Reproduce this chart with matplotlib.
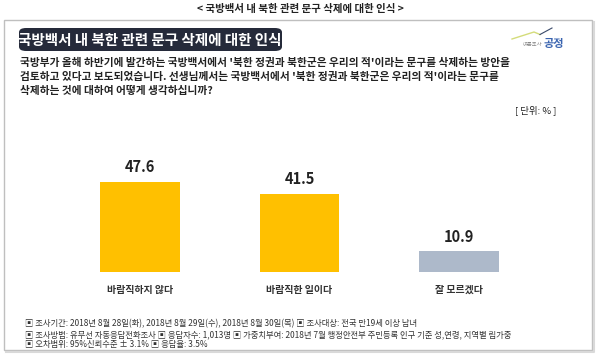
import matplotlib
matplotlib.use("Agg")
import matplotlib.pyplot as plt
from matplotlib.patches import FancyBboxPatch, Rectangle

plt.rcParams['font.family'] = ['Noto Sans CJK KR', 'DejaVu Sans']

categories = ["바람직하지 않다", "바람직한 일이다", "잘 모르겠다"]
values = [47.6, 41.5, 10.9]
colors = ["#FFC000", "#FFC000", "#ADB9CA"]

top_title = "< 국방백서 내 북한 관련 문구 삭제에 대한 인식 >"
banner = "국방백서 내 북한 관련 문구 삭제에 대한 인식"
question = ["국방부가 올해 하반기에 발간하는 국방백서에서 '북한 정권과 북한군은 우리의 적'이라는 문구를 삭제하는 방안을",
            "검토하고 있다고 보도되었습니다. 선생님께서는 국방백서에서 '북한 정권과 북한군은 우리의 적'이라는 문구를",
            "삭제하는 것에 대하여 어떻게 생각하십니까?"]
unit = "[ 단위: % ]"
notes = ["▣ 조사기간: 2018년 8월 28일(화), 2018년 8월 29일(수), 2018년 8월 30일(목) ▣ 조사대상: 전국 만19세 이상 남녀",
         "▣ 조사방법: 유무선 자동응답전화조사 ▣ 응답자수: 1,013명 ▣ 가중치부여: 2018년 7월 행정안전부 주민등록 인구 기준 성,연령, 지역별 림가중",
         "▣ 오차범위: 95%신뢰수준 ± 3.1% ▣ 응답율: 3.5%"]

W, H = 599, 357
fig = plt.figure(figsize=(W/100, H/100), dpi=100)
fig.patch.set_facecolor("white")

def fx(x): return x / W
def fy(y): return 1 - y / H

# frame with light shadow
fig.add_artist(plt.Line2D([fx(6), fx(593.5), fx(593.5)], [fy(351.5), fy(351.5), fy(22)],
                          transform=fig.transFigure, color="#D9D9D9", lw=1.5))
fig.patches.append(Rectangle((fx(4), fy(350)), fx(592) - fx(4), fy(20) - fy(350),
                             transform=fig.transFigure, facecolor="none",
                             edgecolor="#BFBFBF", linewidth=1.0, zorder=0))

fig.text(fx(300), fy(9), top_title, ha="center", va="center", fontsize=7.5,
         fontweight="bold", color="#222222")

# banner
fig.patches.append(FancyBboxPatch((fx(19), fy(51)), fx(282) - fx(19), fy(28) - fy(51),
                                  boxstyle="round,pad=0,rounding_size=0.012",
                                  transform=fig.transFigure, facecolor="#252a3a",
                                  edgecolor="none", zorder=1))
fig.text(fx(150), fy(39.5), banner, ha="center", va="center", fontsize=10.5,
         fontweight="bold", color="white", zorder=2)

# logo
fig.add_artist(plt.Line2D([fx(512), fx(534), fx(540)],
                          [fy(39), fy(32), fy(34.5)],
                          transform=fig.transFigure, color="#d4dc7a", lw=1.0))
fig.add_artist(plt.Line2D([fx(540), fx(552)],
                          [fy(34.5), fy(28)],
                          transform=fig.transFigure, color="#3a4a6a", lw=0.8))
fig.text(fx(542), fy(44), "여론조사", ha="right", va="center", fontsize=3.8, color="#888888")
fig.text(fx(543), fy(44), "공정", ha="left", va="center", fontsize=8, fontweight="bold", color="#3a64b0")

for i, line in enumerate(question):
    fig.text(fx(20), fy(63 + 14 * i), line, ha="left", va="center", fontsize=7.7,
             fontweight="bold", color="#222222")
fig.text(fx(556), fy(110), unit, ha="right", va="center", fontsize=6.8, color="#222222")

for i, line in enumerate(notes):
    fig.text(fx(25), fy(324 + 10.5 * i), line, ha="left", va="center", fontsize=6.0, color="#333333")

# bar axes
ax = fig.add_axes([fx(60), fy(272), fx(539) - fx(60), fy(159) - fy(272)])
ax.set_xlim(-0.5, 2.5)
ax.set_ylim(0, 60)
x = list(range(len(categories)))
bars = ax.bar(x, values, width=0.5, color=colors, zorder=3)
for xi, v in zip(x, values):
    ax.annotate(f"{v}", (xi, v), xytext=(0, 5), textcoords="offset points",
                ha="center", va="bottom", fontsize=10.5, fontweight="bold", color="#222222")
ax.set_xticks(x)
ax.set_xticklabels(categories, fontsize=7.2, fontweight="bold", color="#333333")
ax.tick_params(axis="x", length=0, pad=9)
ax.set_yticks([])
for s in ax.spines.values():
    s.set_visible(False)
ax.patch.set_alpha(0)

fig.savefig("out.png", dpi=100)
